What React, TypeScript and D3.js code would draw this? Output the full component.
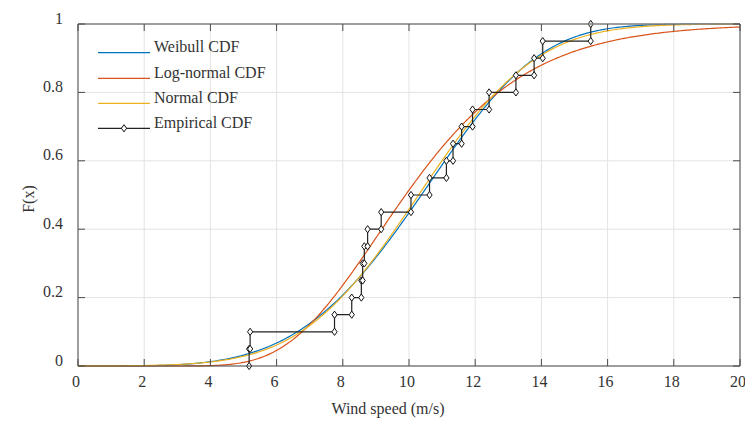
import React from "react";
import * as d3 from "d3";

// Empirical wind-speed sample (sorted)
const windSamples = [5.17, 5.2, 7.75, 8.27, 8.56, 8.6, 8.65, 8.75, 9.16, 10.06, 10.62, 11.13, 11.33, 11.59, 11.92, 12.42, 13.23, 13.78, 14.04, 15.49];

// Fitted distribution parameters
const weibullParams = [4.2, 11.32]; // shape k, scale lambda
const lognormalParams = [2.292, 0.296]; // mu, sigma of ln(x)
const normalParams = [10.29, 2.78]; // mean, sd

const xTicks = [0, 2, 4, 6, 8, 10, 12, 14, 16, 18, 20];
const yTicks = [0, 0.2, 0.4, 0.6, 0.8, 1];
const yTickLabels = ["0", "0.2", "0.4", "0.6", "0.8", "1"];
const legendLabels = ["Weibull CDF", "Log-normal CDF", "Normal CDF", "Empirical CDF"];
const seriesColors = ["#0072BD", "#D95319", "#EDB120", "#222222"];

function erf(x: number): number {
  const s = x < 0 ? -1 : 1;
  const a = Math.abs(x);
  const t = 1 / (1 + 0.3275911 * a);
  const y = 1 - (((((1.061405429 * t - 1.453152027) * t) + 1.421413741) * t - 0.284496736) * t + 0.254829592) * t * Math.exp(-a * a);
  return s * y;
}
const normCdf = (x: number, m: number, s: number) => 0.5 * (1 + erf((x - m) / (s * Math.SQRT2)));
const weibullCdf = (x: number) => (x <= 0 ? 0 : 1 - Math.exp(-Math.pow(x / weibullParams[1], weibullParams[0])));
const lognCdf = (x: number) => (x <= 0 ? 0 : normCdf(Math.log(x), lognormalParams[0], lognormalParams[1]));
const normalCdf = (x: number) => normCdf(x, normalParams[0], normalParams[1]);

const W = 745, H = 421;
const m = { left: 78, right: 740, top: 24, bottom: 366 };
const FONT = "'Liberation Serif', 'Times New Roman', serif";

export default function App() {
  const x = d3.scaleLinear().domain([0, 20]).range([m.left, m.right]);
  const y = d3.scaleLinear().domain([0, 1]).range([m.bottom, m.top]);
  const xs = d3.range(0, 20.0001, 0.05);
  const line = d3.line<[number, number]>().x((d) => x(d[0])).y((d) => y(d[1]));
  const curves = [weibullCdf, lognCdf, normalCdf].map((f) => line(xs.map((v) => [v, f(v)] as [number, number])) || "");

  const n = windSamples.length;
  const stairPts: [number, number][] = [];
  windSamples.forEach((v, i) => {
    stairPts.push([v, i / n]);
    stairPts.push([v, (i + 1) / n]);
  });
  const stairPath = line(stairPts) || "";
  const diamond = (cx: number, cy: number) => `M${cx},${cy - 3.6}L${cx + 2.6},${cy}L${cx},${cy + 3.6}L${cx - 2.6},${cy}Z`;

  const legendY = [52.7, 78.3, 103.3, 128.3];
  const tickLen = 7;
  const axisColor = "#4a4a4a";
  const fs = 16;

  return (
    <svg width={W} height={H} style={{ position: "absolute", left: 0, top: 0, background: "#fff" }} fontFamily={FONT}>
      <rect x={0} y={0} width={W} height={H} fill="#fff" />
      {/* grid */}
      {xTicks.map((t) => (
        <line key={"gx" + t} x1={x(t)} x2={x(t)} y1={m.top} y2={m.bottom} stroke="#e3e3e3" strokeWidth={1} />
      ))}
      {yTicks.map((t) => (
        <line key={"gy" + t} x1={m.left} x2={m.right} y1={y(t)} y2={y(t)} stroke="#e3e3e3" strokeWidth={1} />
      ))}
      {/* fitted curves */}
      {curves.map((d, i) => (
        <path key={"c" + i} d={d} fill="none" stroke={seriesColors[i]} strokeWidth={1.2} />
      ))}
      {/* empirical */}
      <path d={stairPath} fill="none" stroke={seriesColors[3]} strokeWidth={1.2} />
      {stairPts.map((p, i) => (
        <path key={"mk" + i} d={diamond(x(p[0]), y(p[1]))} fill="#fff" stroke="#111" strokeWidth={1} />
      ))}
      {/* axes box */}
      <line x1={m.left} x2={m.right} y1={m.top} y2={m.top} stroke="#808080" strokeWidth={1.5} />
      <line x1={m.right} x2={m.right} y1={m.top} y2={m.bottom} stroke={axisColor} strokeWidth={1} />
      <line x1={m.left} x2={m.right} y1={m.bottom} y2={m.bottom} stroke={axisColor} strokeWidth={1} />
      <line x1={m.left} x2={m.left} y1={m.top} y2={m.bottom} stroke={axisColor} strokeWidth={1} />
      {xTicks.map((t) => (
        <g key={"tx" + t}>
          <line x1={x(t)} x2={x(t)} y1={m.bottom} y2={m.bottom - tickLen} stroke={axisColor} />
          <line x1={x(t)} x2={x(t)} y1={m.top} y2={m.top + tickLen} stroke={axisColor} />
          <text x={x(t) - 2} y={381} textAnchor="middle" dominantBaseline="central" fontSize={fs} fill="#333">
            {t}
          </text>
        </g>
      ))}
      {yTicks.map((t, i) => (
        <g key={"ty" + t}>
          <line x1={m.left} x2={m.left + tickLen} y1={y(t)} y2={y(t)} stroke={axisColor} />
          <line x1={m.right} x2={m.right - tickLen} y1={y(t)} y2={y(t)} stroke={axisColor} />
          <text x={63} y={y(t) - 6} textAnchor="end" dominantBaseline="central" fontSize={fs} fill="#333">
            {yTickLabels[i]}
          </text>
        </g>
      ))}
      <text x={388} y={408} textAnchor="middle" dominantBaseline="central" fontSize={fs} fill="#333">
        Wind speed (m/s)
      </text>
      <text transform="translate(28,199) rotate(-90)" textAnchor="middle" dominantBaseline="central" fontSize={fs} fill="#333">
        F(x)
      </text>
      {/* legend */}
      {legendLabels.map((lab, i) => (
        <g key={"lg" + i}>
          <line x1={98} x2={150} y1={legendY[i]} y2={legendY[i]} stroke={seriesColors[i]} strokeWidth={i === 3 ? 1.2 : 1.2} />
          {i === 3 && <path d={diamond(124, legendY[i])} fill="#fff" stroke="#111" strokeWidth={1} />}
          <text x={154} y={legendY[i] - 6} dominantBaseline="central" fontSize={fs} fill="#333">
            {lab}
          </text>
        </g>
      ))}
    </svg>
  );
}
